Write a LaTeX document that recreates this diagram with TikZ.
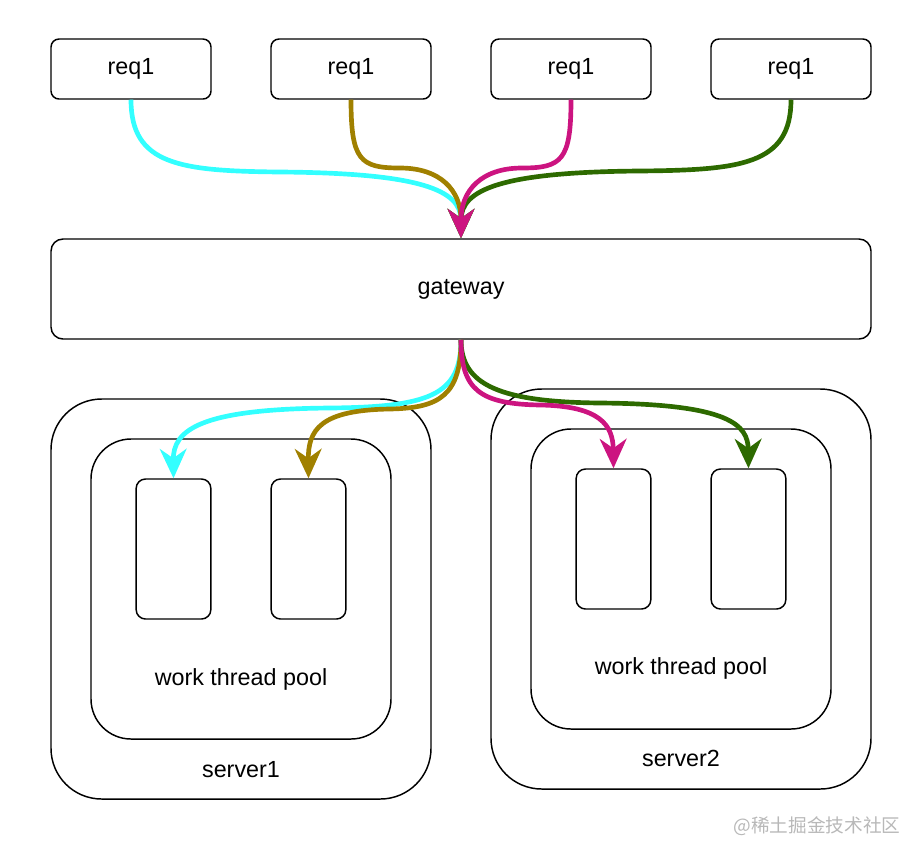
\documentclass[tikz,border=0pt]{standalone}
\usepackage{fontspec}
\setmainfont{Liberation Sans}
\newfontfamily\cjkfont{Noto Sans CJK SC}
\usetikzlibrary{arrows.meta,positioning}
\definecolor{reqcyan}{HTML}{33FFFF}
\definecolor{reqolive}{HTML}{A08000}
\definecolor{reqpink}{HTML}{CC1480}
\definecolor{reqgreen}{HTML}{2D6A00}

\begin{document}
\begin{tikzpicture}[
  x=0.75pt, y=-0.75pt,
  every node/.style={font=\fontsize{17.5}{21}\selectfont},
  reqbox/.style={draw, line width=1.1pt, rounded corners=6pt, minimum width=120pt, minimum height=45pt, inner sep=0pt},
  gatebox/.style={draw, line width=1.1pt, rounded corners=9pt, minimum width=615pt, minimum height=75pt, inner sep=0pt},
  serverbox/.style={draw, line width=1.1pt, rounded corners=38pt, minimum width=285pt, minimum height=300pt, inner sep=0pt},
  poolbox/.style={draw, line width=1.1pt, rounded corners=30pt, minimum width=225pt, minimum height=225pt, inner sep=0pt},
  threadbox/.style={draw, line width=1.1pt, rounded corners=7pt, minimum width=56pt, minimum height=105pt, inner sep=0pt},
  flow/.style={line width=3.5pt, -{Stealth[length=22pt,width=20pt,inset=7pt]}}
]
\useasboundingbox (0,0) rectangle (920,858);

% requests and gateway
\node[reqbox] (req1) at (131,69) {req1};
\node[reqbox] (req2) at (351,69) {req1};
\node[reqbox] (req3) at (571,69) {req1};
\node[reqbox] (req4) at (791,69) {req1};
\node[gatebox] (gateway) at (461,289) {gateway};

% servers
\node[serverbox] (server1) at (241,599) {};
\node[poolbox] (pool1) at (241,589) {};
\node[threadbox] (t11) at (173.5,549) {};
\node[threadbox] (t12) at (308.5,549) {};
\node (pool1label) at (241,679) {work thread pool};
\node (server1label) at (241,770) {server1};

\node[serverbox] (server2) at (681,589) {};
\node[poolbox] (pool2) at (681,579) {};
\node[threadbox] (t21) at (613.5,539) {};
\node[threadbox] (t22) at (748.5,539) {};
\node (pool2label) at (681,668) {work thread pool};
\node (server2label) at (681,758) {server2};

% requests into gateway
\draw[flow, reqcyan] (req1.south) .. controls (131,165) and (180,171) .. (280,172)
  .. controls (420,173) and (461,190) .. (gateway.north);
\draw[flow, reqolive] (req2.south) .. controls (351,160) and (360,168) .. (400,168)
  .. controls (440,168) and (461,190) .. (gateway.north);
\draw[flow, reqgreen] (req4.south) .. controls (791,165) and (740,170) .. (640,171)
  .. controls (500,172) and (461,190) .. (gateway.north);
\draw[flow, reqpink] (req3.south) .. controls (571,160) and (562,168) .. (522,168)
  .. controls (482,168) and (461,190) .. (gateway.north);

% gateway to worker threads
\draw[flow, reqcyan] (gateway.south) .. controls (461,395) and (430,407) .. (330,408)
  .. controls (200,409) and (173,430) .. (t11.north);
\draw[flow, reqolive] (gateway.south) .. controls (461,395) and (440,408) .. (390,409)
  .. controls (320,410) and (308,430) .. (t12.north);
\draw[flow, reqgreen] (gateway.south) .. controls (461,385) and (500,402) .. (600,403)
  .. controls (730,404) and (748,425) .. (t22.north);
\draw[flow, reqpink] (gateway.south) .. controls (461,390) and (480,404) .. (540,405)
  .. controls (600,406) and (613,425) .. (t21.north);

% watermark
\node[text=black!28, font=\cjkfont\fontsize{14}{17}\selectfont] (mark) at (817,826) {@稀土掘金技术社区};
\end{tikzpicture}
\end{document}
